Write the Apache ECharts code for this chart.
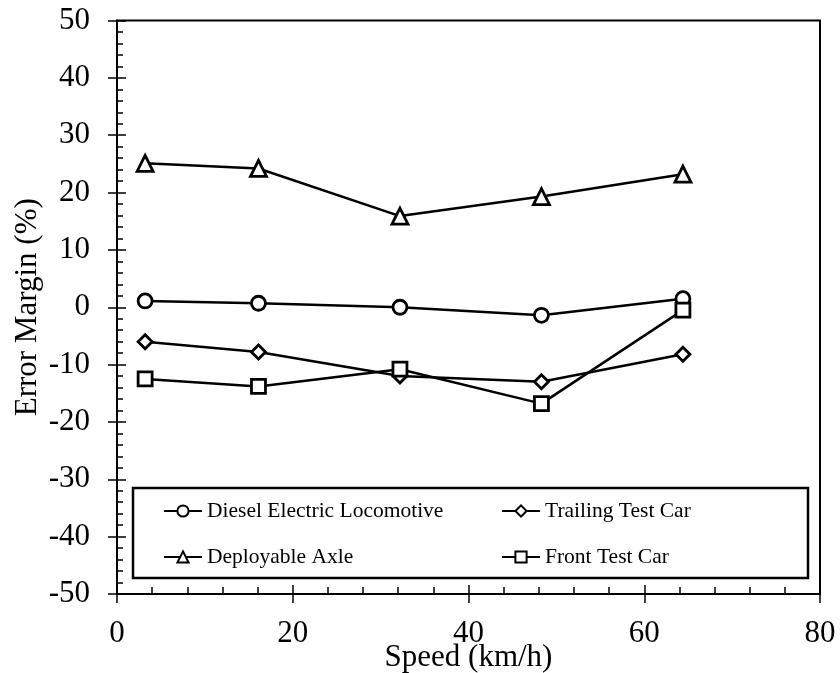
<!DOCTYPE html>
<html>
<head>
<meta charset="utf-8">
<script src="https://cdn.jsdelivr.net/npm/echarts@6/dist/echarts.min.js"></script>
<style>
  html, body { margin: 0; padding: 0; background: #fff; }
  #chart { width: 840px; height: 673px; }
</style>
</head>
<body>
<div id="chart"></div>
<script>
// Speeds tested (km/h)
const speeds = [3.2, 16.1, 32.2, 48.3, 64.4];

// Error margin (%) per measured unit
const dieselLoco   = [1.1, 0.7, 0.0, -1.4, 1.5];
const trailingCar  = [-6.0, -7.8, -12.0, -13.0, -8.2];
const deployAxle   = [25.1, 24.2, 15.9, 19.3, 23.2];
const frontCar     = [-12.5, -13.8, -10.8, -16.8, -0.5];

const seriesNames = ['Diesel Electric Locomotive', 'Trailing Test Car', 'Deployable Axle', 'Front Test Car'];

const FONT = '"Liberation Serif", "Times New Roman", serif';

function pairs(ys) { return speeds.map((x, i) => [x, ys[i]]); }

function makeSeries(name, ys, symbol, size) {
  return {
    name: name,
    type: 'line',
    xAxisIndex: 0,
    yAxisIndex: 0,
    data: pairs(ys),
    symbol: symbol,
    symbolSize: size,
    showAllSymbol: true,
    lineStyle: { color: '#000', width: 2.5 },
    itemStyle: { color: '#fff', borderColor: '#000', borderWidth: 2.8 },
    emphasis: { disabled: true },
    animation: false
  };
}

const axisLineStyle = { color: '#000', width: 2 };
const tickStyle = { color: '#000', width: 1.5 };

const chart = echarts.init(document.getElementById('chart'), null, { renderer: 'canvas' });

chart.setOption({
  backgroundColor: '#fff',
  animation: false,
  grid: {
    left: 117, right: 20, top: 20.5, bottom: 79,
    outerBoundsMode: 'none',
    containLabel: false,
    show: true, borderColor: '#000', borderWidth: 2, backgroundColor: 'transparent'
  },
  xAxis: [
    {
      type: 'value', min: 0, max: 80, interval: 20,
      name: 'Speed (km/h)', nameLocation: 'middle', nameGap: 48, nameMoveOverlap: false,
      nameTextStyle: { fontFamily: FONT, fontSize: 31, color: '#000' },
      axisLine: { show: true, onZero: false, lineStyle: axisLineStyle },
      axisTick: { show: true, inside: true, length: 9, lineStyle: tickStyle },
      minorTick: { show: true, splitNumber: 5, length: 7, lineStyle: tickStyle },
      axisLabel: { fontFamily: FONT, fontSize: 31, color: '#000', margin: 24 },
      splitLine: { show: false }, minorSplitLine: { show: false }
    },
    {
      type: 'value', min: 0, max: 80, interval: 20, position: 'bottom',
      axisLine: { show: false, onZero: false },
      axisTick: { show: true, inside: false, length: 9, lineStyle: tickStyle },
      axisLabel: { show: false }, splitLine: { show: false }
    }
  ],
  yAxis: [
    {
      type: 'value', min: -50, max: 50, interval: 10,
      name: 'Error Margin (%)', nameLocation: 'middle', nameGap: 74, nameMoveOverlap: false,
      nameTextStyle: { fontFamily: FONT, fontSize: 31, color: '#000' },
      axisLine: { show: true, onZero: false, lineStyle: axisLineStyle },
      axisTick: { show: true, inside: true, length: 9, lineStyle: tickStyle },
      minorTick: { show: true, splitNumber: 5, length: 6, lineStyle: tickStyle },
      axisLabel: { fontFamily: FONT, fontSize: 31, color: '#000', margin: 27 },
      splitLine: { show: false }, minorSplitLine: { show: false }
    },
    {
      type: 'value', min: -50, max: 50, interval: 10, position: 'left',
      axisLine: { show: false, onZero: false },
      axisTick: { show: true, inside: false, length: 9, lineStyle: tickStyle },
      axisLabel: { show: false }, splitLine: { show: false }
    }
  ],
  legend: [
    {
      orient: 'vertical', left: 163, top: 500, padding: 0,
      data: [seriesNames[0], seriesNames[2]],
      itemWidth: 38, itemHeight: 14, itemGap: 24,
      textStyle: { fontFamily: FONT, fontSize: 21.5, color: '#000' },
      selectedMode: false
    },
    {
      orient: 'vertical', left: 501, top: 500, padding: 0,
      data: [seriesNames[1], seriesNames[3]],
      itemWidth: 38, itemHeight: 14, itemGap: 24,
      textStyle: { fontFamily: FONT, fontSize: 21.5, color: '#000' },
      selectedMode: false
    }
  ],
  graphic: [
    {
      type: 'rect', silent: true, z: 5,
      shape: { x: 133, y: 488, width: 675, height: 90 },
      style: { fill: 'transparent', stroke: '#000', lineWidth: 2.5 }
    }
  ],
  series: [
    makeSeries(seriesNames[0], dieselLoco, 'circle', 14),
    makeSeries(seriesNames[1], trailingCar, 'diamond', 14),
    makeSeries(seriesNames[2], deployAxle, 'triangle', 16),
    makeSeries(seriesNames[3], frontCar, 'rect', 14)
  ]
});
</script>
</body>
</html>
